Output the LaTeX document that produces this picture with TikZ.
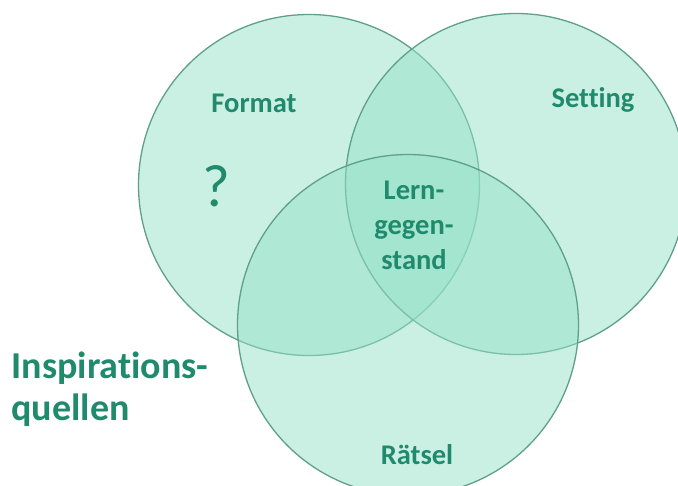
\documentclass[tikz,border=0pt]{standalone}
\usepackage{fontspec}
\setmainfont[Ligatures=NoCommon]{Carlito}
\usepackage{tikz}
\usetikzlibrary{positioning}

\definecolor{mint}{RGB}{150,225,200}
\definecolor{rim}{RGB}{95,160,138}
\definecolor{inkgreen}{RGB}{32,138,108}

\begin{document}
\begin{tikzpicture}[x=1pt, y=-1pt,
    set/.style={circle, minimum size=341pt, draw=rim, line width=1.3pt, fill=mint, fill opacity=0.5},
    word/.style={text=inkgreen, font=\bfseries\fontsize{28.5}{35}\selectfont, align=center}]

    \useasboundingbox (0,0) rectangle (678,486);

    % Circles
    \node[set] (format) at (309,185) {};
    \node[set] (setting) at (516,184) {};
    \node[set] (raetsel) at (408,325) {};

    % Labels
    \node[word] (formatlabel) at (254,103) {Format};
    \node[word] (settinglabel) at (593,100) {Setting};
    \node[word, font=\fontsize{60}{60}\selectfont] (question) at (216,186) {?};
    \node[word] (center) at (414,225) {Lern-\\gegen-\\stand};
    \node[word] (raetsellabel) at (417,455) {Rätsel};
    \node[word, font=\bfseries\fontsize{38}{42}\selectfont, align=left, anchor=west] (inspiration) at (8,389) {Inspirations-\\quellen};

\end{tikzpicture}
\end{document}
